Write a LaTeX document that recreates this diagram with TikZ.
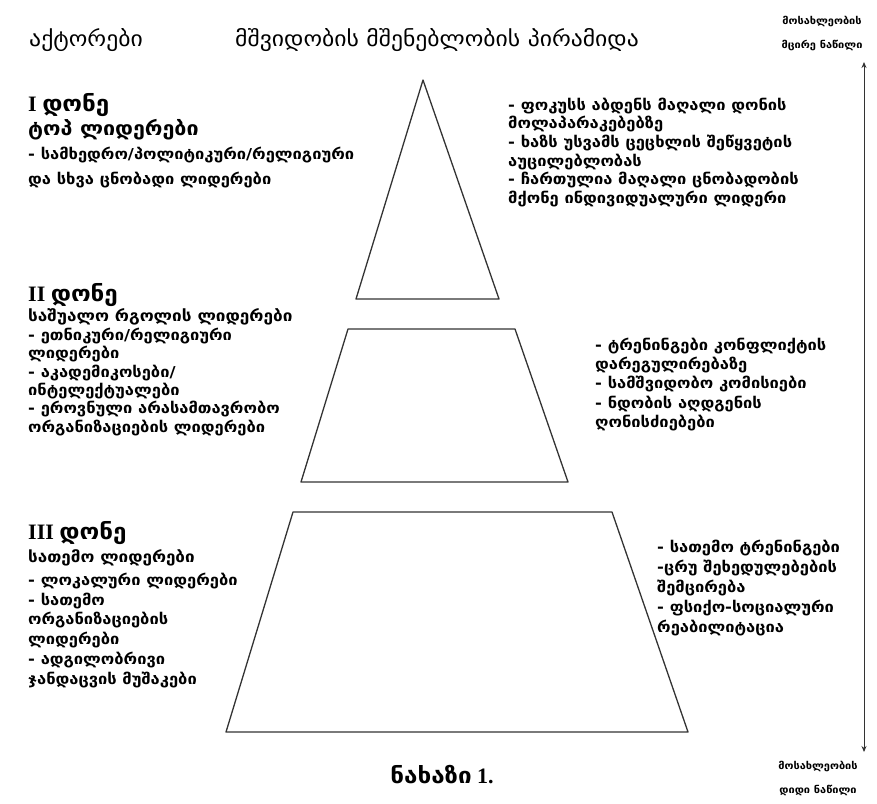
\documentclass[tikz,border=0pt]{standalone}
\usepackage{fontspec}
\setmainfont{Liberation Serif}
\newfontfamily\geo[FakeStretch=1.1]{DejaVu Sans}
\usetikzlibrary{arrows.meta}
\begin{document}
\begin{tikzpicture}[x=1pt,y=-1pt,
  body/.style={anchor=north west, inner sep=0pt, align=left, font=\geo\bfseries\fontsize{15}{#1}\selectfont},
  head/.style={anchor=west, inner sep=0pt, font=\bfseries\fontsize{22}{24}\selectfont},
  sub/.style={anchor=west, inner sep=0pt, font=\geo\bfseries\fontsize{#1}{20}\selectfont},
  title/.style={anchor=center, inner sep=0pt, font=\geo\fontsize{21.5}{24}\selectfont},
  small/.style={anchor=center, inner sep=0pt, align=center, font=\geo\bfseries\fontsize{10}{24}\selectfont},
  level/.style={draw=black!80, line width=1.3pt, line join=round},
  axis/.style={draw=black!80, line width=0.9pt, {Stealth[length=6pt,width=5pt]}-{Stealth[length=6pt,width=5pt]}}
]
\useasboundingbox (0,0) rectangle (877,803);
% pyramid
\draw[level] (423,80) -- (499,299) -- (356,299) -- cycle;
\draw[level] (348,329) -- (515,329) -- (568,482) -- (301,482) -- cycle;
\draw[level] (293,512) -- (612,512) -- (688,732) -- (226,732) -- cycle;
% top texts
\node[title] (actors) at (86,40) {აქტორები};
\node[title] (ttl) at (437,40) {მშვიდობის მშენებლობის პირამიდა};
\node[small] (few) at (822,34) {მოსახლეობის\\მცირე ნაწილი};
\node[small] (many) at (818,778) {მოსახლეობის\\დიდი ნაწილი};
% axis
\coordinate (atop) at (864,62);
\coordinate (abot) at (864,752);
\draw[axis] (atop) -- (abot);
% level I
\node[head] (l1) at (28,105) {I {\geo დონე}};
\node[sub=19.5] (l1s) at (28,130) {ტოპ ლიდერები};
\node[body=25] (l1b) at (28,146.6) {- სამხედრო/პოლიტიკური/რელიგიური\\და სხვა ცნობადი ლიდერები};
\node[body=18.6] (r1) at (508,97.6) {- ფოკუსს აბდენს მაღალი დონის\\მოლაპარაკებებზე\\- ხაზს უსვამს ცეცხლის შეწყვეტის\\აუცილებლობას\\- ჩართულია მაღალი ცნობადობის\\მქონე ინდივიდუალური ლიდერი};
% level II
\node[head] (l2) at (28,295) {II {\geo დონე}};
\node[sub=15.6] (l2s) at (28,317) {საშუალო რგოლის ლიდერები};
\node[body=18.4] (l2b) at (28,327.6) {- ეთნიკური/რელიგიური\\ლიდერები\\- აკადემიკოსები/\\ინტელექტუალები\\- ეროვნული არასამთავრობო\\ორგანიზაციების ლიდერები};
\node[body=19.25] (r2) at (595,337.6) {- ტრენინგები კონფლიქტის\\დარეგულირებაზე\\- სამშვიდობო კომისიები\\- ნდობის აღდგენის\\ღონისძიებები};
% level III
\node[head] (l3) at (28,533) {III {\geo დონე}};
\node[sub=15.5] (l3s) at (28,558) {სათემო ლიდერები};
\node[body=19.8] (l3b) at (28,572.6) {- ლოკალური ლიდერები\\- სათემო\\ორგანიზაციების\\ლიდერები\\- ადგილობრივი\\ჯანდაცვის მუშაკები};
\node[body=20] (r3) at (657,539.6) {- სათემო ტრენინგები\\-ცრუ შეხედულებების\\შემცირება\\- ფსიქო-სოციალური\\რეაბილიტაცია};
% caption
\node[anchor=center, inner sep=0pt, font=\bfseries\fontsize{22}{24}\selectfont] (cap) at (442,775) {{\geo ნახაზი} 1.};
\end{tikzpicture}
\end{document}
